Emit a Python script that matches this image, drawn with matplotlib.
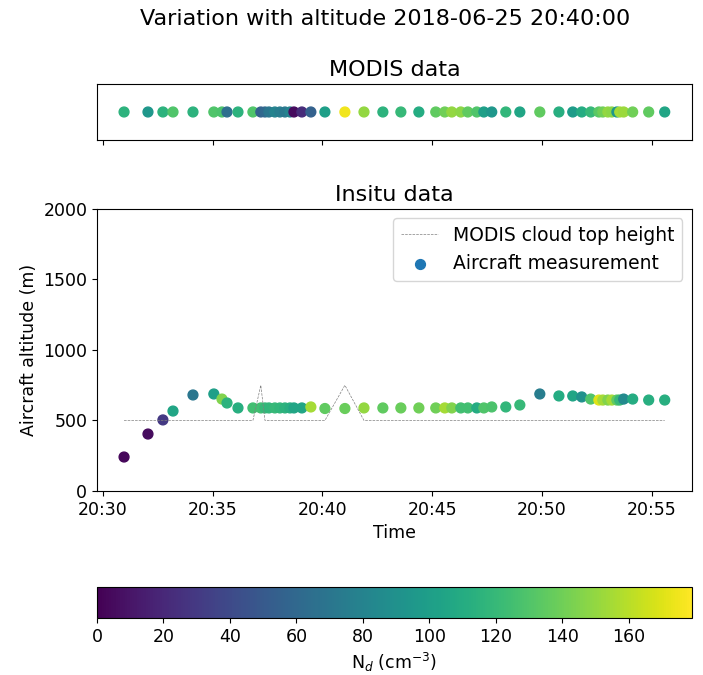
import numpy as np
import pandas as pd
import matplotlib
matplotlib.use("Agg")
import matplotlib.pyplot as plt
import matplotlib.dates as mdates

plt.rcParams["font.size"] = 12.5

# minutes after 20:30:00, shared by MODIS and aircraft points
minutes = [0.96, 2.05, 2.73, 3.19, 4.10, 5.05, 5.42, 5.65, 6.15, 6.83,
           7.19, 7.38, 7.56, 7.83, 8.06, 8.29, 8.52, 8.70, 9.06, 9.47,
           10.11, 11.02, 11.89, 12.75, 13.57, 14.39, 15.16, 15.57, 15.89, 16.30,
           16.62, 17.03, 17.35, 17.71, 18.35, 18.99, 19.90, 20.77, 21.40, 21.81,
           22.22, 22.59, 22.77, 23.00, 23.18, 23.41, 23.54, 23.72, 24.13, 24.86,
           25.59]

# MODIS droplet number concentration (cm-3) and cloud top height (m)
modis_nd = [115, 95, 115, 130, 115, 130, 128, 65, 115, 130,
            55, 60, 70, 80, 75, 72, 80, 5, 22, 55,
            100, 175, 150, 115, 120, 110, 135, 140, 150, 148,
            135, 130, 100, 95, 118, 105, 135, 112, 98, 110,
            120, 133, 140, 150, 148, 95, 155, 152, 140, 135,
            105]
modis_cth = [500] * 10 + [750] + [500] * 10 + [750] + [500] * 29

# aircraft altitude (m) and in situ Nd (cm-3)
insitu_alt = [241, 404, 504, 567, 681, 688, 652, 624, 589, 589,
              589, 589, 589, 589, 589, 589, 589, 589, 589, 596,
              585, 585, 589, 589, 589, 589, 589, 589, 589, 589,
              589, 589, 589, 596, 596, 610, 688, 674, 674, 667,
              652, 645, 645, 645, 645, 645, 645, 652, 652, 645,
              645]
insitu_nd = [3, 5, 30, 105, 70, 100, 145, 115, 112, 125,
             125, 120, 118, 120, 118, 115, 112, 105, 105, 155,
             135, 138, 150, 135, 138, 140, 140, 155, 145, 125,
             125, 110, 130, 128, 118, 120, 75, 110, 105, 90,
             130, 170, 155, 145, 155, 135, 120, 85, 110, 112,
             112]

ND_MAX = 179

times = pd.Timestamp("2018-06-25 20:30:00") + pd.to_timedelta(minutes, unit="min")
times = times.to_pydatetime()

fig = plt.figure(figsize=(7.03, 6.75), dpi=100)
fig.suptitle("Variation with altitude 2018-06-25 20:40:00", fontsize=16,
             x=0.548, y=0.986)

ax_in = fig.add_axes([0.138, 0.2726, 0.846, 0.4178])
ax_mod = fig.add_axes([0.138, 0.7926, 0.846, 0.083], sharex=ax_in)
cax = fig.add_axes([0.138, 0.0844, 0.846, 0.046])

# MODIS strip
ax_mod.scatter(times, np.zeros(len(times)), c=modis_nd, cmap="viridis",
               vmin=0, vmax=ND_MAX, s=50)
ax_mod.set_yticks([])
ax_mod.tick_params(labelbottom=False)
ax_mod.set_title("MODIS data", fontsize=16)

# in situ
ax_in.plot(times, modis_cth, ls="--", lw=0.5, color="grey",
           label="MODIS cloud top height")
sc = ax_in.scatter(times, insitu_alt, c=insitu_nd, cmap="viridis",
                   vmin=0, vmax=ND_MAX, s=50)
ax_in.scatter([], [], color="C0", s=50, label="Aircraft measurement")
ax_in.set_ylim(0, 2000)
ax_in.set_yticks([0, 500, 1000, 1500, 2000])
ax_in.xaxis.set_major_locator(mdates.MinuteLocator(byminute=range(0, 60, 5)))
ax_in.xaxis.set_major_formatter(mdates.DateFormatter("%H:%M"))
ax_in.set_xlabel("Time")
ax_in.set_ylabel("Aircraft altitude (m)")
ax_in.set_title("Insitu data", fontsize=16)
ax_in.legend(loc="upper right", fontsize=13.5)

cb = fig.colorbar(sc, cax=cax, orientation="horizontal")
cb.set_ticks(range(0, 161, 20))
cb.set_label("N$_d$ (cm$^{-3}$)")

fig.savefig("out.png", dpi=100)
